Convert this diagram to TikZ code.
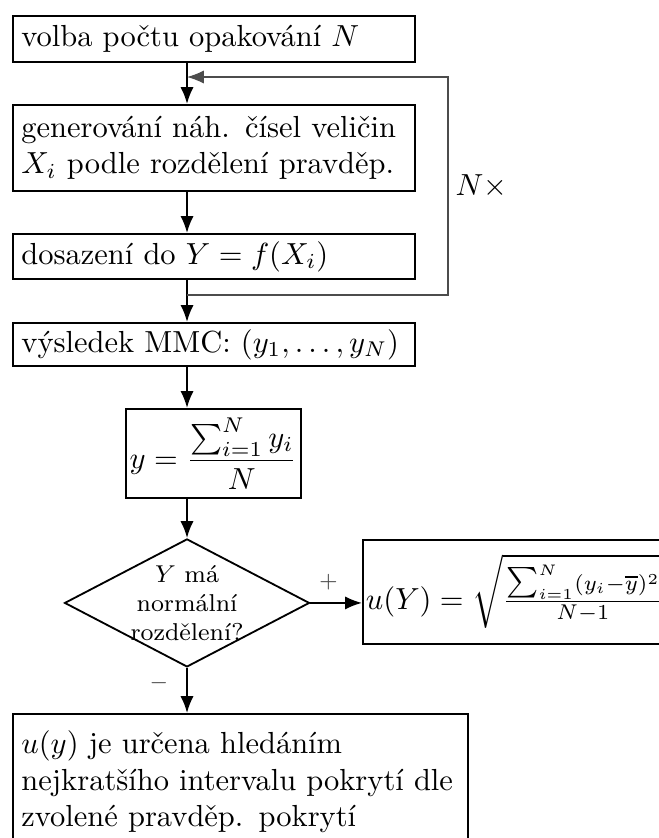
\documentclass[tikz,border=0pt]{standalone}
\usetikzlibrary{shapes.geometric,arrows.meta}
\begin{document}
\begin{tikzpicture}[
    blok/.style={draw, line width=0.6pt, anchor=north west, inner xsep=2.8pt, inner ysep=0pt, align=left},
    vzorec/.style={draw, line width=0.6pt, inner xsep=1pt, inner ysep=0pt},
    rozhod/.style={diamond, draw, line width=0.6pt, minimum width=2.824cm, minimum height=1.476cm, inner sep=-7pt, align=center, font=\fontsize{8}{9.6}\selectfont},
    sipka/.style={line width=0.6pt, -{Latex[length=5.5pt,width=4.3pt]}},
    smycka/.style={line width=0.4pt, black!70, -{Latex[length=5.5pt,width=4.3pt]}},
  ]
    \useasboundingbox (0,0) rectangle (7.586,-9.661);

    % osa sipek a smycka
    \coordinate (osa) at (2.156,0);
    \coordinate (vstup) at (2.156,-0.888);
    \coordinate (vystup) at (2.156,-3.401);
    \coordinate (smyckaR) at (5.165,0);

    \node[blok, text width=126.2pt, minimum height=0.530cm] (volba) at (0.138,-0.173) {volba počtu opakování $N$};
    \node[blok, text width=126.2pt, minimum height=0.991cm] (gener) at (0.138,-1.199) {generování náh. čísel veličin\\ $X_i$ podle rozdělení pravděp.};
    \node[blok, text width=126.2pt, minimum height=0.519cm] (dosaz) at (0.138,-2.686) {dosazení do $Y=f(X_i)$};
    \node[blok, text width=126.2pt, minimum height=0.496cm] (vysl) at (0.138,-3.712) {výsledek MMC: $(y_1,\ldots,y_N)$};
    \node[vzorec, anchor=north west, minimum width=2.017cm, minimum height=1.026cm] (prumer) at (1.441,-4.703) {$\displaystyle y=\frac{\sum_{i=1}^N y_i}{N}$};
    \node[rozhod] (norm) at (2.156,-6.951) {$Y$ má\\ normální\\ rozdělení?};
    \node[vzorec, anchor=base west, text height=22.6pt, text depth=11.5pt] (nejist) at (4.173,-7.021) {$u(Y)=\sqrt{\frac{\mathop{\textstyle\sum}_{i=1}^N(y_i-\overline{y})^2}{N-1}}$\hspace{12pt}};
    \node[blok, text width=143.6pt, inner ysep=5.5pt] (interval) at (0.138,-8.220) {$u(y)$ je určena hledáním\\ nejkratšího intervalu pokrytí dle\\ zvolené pravděp. pokrytí};

    \draw[sipka] (volba.south -| osa) -- (gener.north -| osa);
    \draw[sipka] (gener.south -| osa) -- (dosaz.north -| osa);
    \draw[sipka] (dosaz.south -| osa) -- (vysl.north -| osa);
    \draw[smycka] (vystup) -- (vystup -| smyckaR) -- (vstup -| smyckaR) node[midway, right, inner sep=2.3pt, text=black] {$N\times$} -- (vstup);
    \draw[sipka] (vysl.south -| osa) -- (prumer.north -| osa);
    \draw[sipka] (prumer.south -| osa) -- (norm.north);
    \draw[sipka] (norm.east) -- (norm.east -| nejist.west) node[pos=0.35, above=0.5pt, font=\scriptsize, text=black!70] {$+$};
    \draw[sipka] (norm.south) -- (interval.north -| norm.south) node[pos=0.33, left=2.5pt, font=\scriptsize, text=black!70] {$-$};

\end{tikzpicture}
\end{document}
